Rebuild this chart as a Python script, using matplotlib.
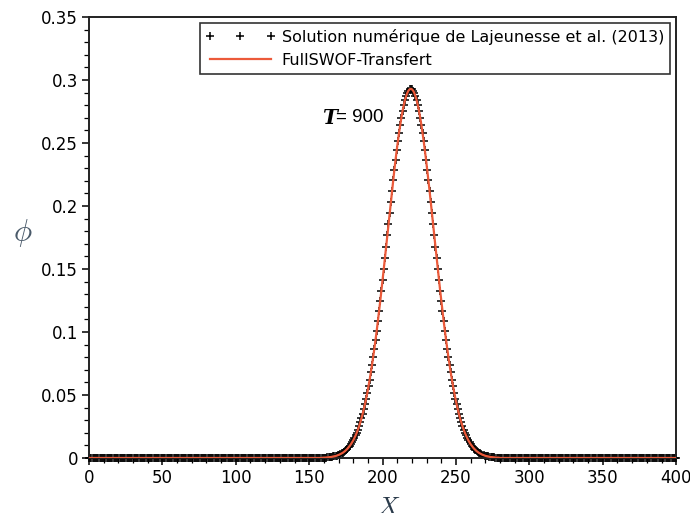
import numpy as np
import matplotlib
matplotlib.use("Agg")
import matplotlib.pyplot as plt
from matplotlib.ticker import MultipleLocator, FuncFormatter

# Domain: 501 grid points, dx = 0.8; phi is zero outside the pulse
x_start, x_end, n_points = 0, 400, 501
pulse_first_index = 199  # x = 159.2
pulse_phi = [
    0.0002, 0.0003, 0.0003, 0.0004, 0.0005, 0.0006, 0.0007, 0.0008, 0.0010, 0.0012,
    0.0014, 0.0016, 0.0019, 0.0023, 0.0026, 0.0031, 0.0036, 0.0041, 0.0048, 0.0055,
    0.0064, 0.0073, 0.0084, 0.0096, 0.0109, 0.0124, 0.0140, 0.0159, 0.0179, 0.0201,
    0.0226, 0.0253, 0.0282, 0.0314, 0.0349, 0.0387, 0.0428, 0.0471, 0.0518, 0.0569,
    0.0622, 0.0679, 0.0740, 0.0803, 0.0869, 0.0939, 0.1011, 0.1087, 0.1165, 0.1246,
    0.1329, 0.1415, 0.1501, 0.1589, 0.1678, 0.1767, 0.1856, 0.1945, 0.2033, 0.2120,
    0.2205, 0.2286, 0.2366, 0.2442, 0.2514, 0.2582, 0.2645, 0.2702, 0.2754, 0.2799,
    0.2839, 0.2871, 0.2897, 0.2915, 0.2926, 0.2930, 0.2926, 0.2915, 0.2897, 0.2871,
    0.2839, 0.2799, 0.2754, 0.2702, 0.2645, 0.2582, 0.2514, 0.2442, 0.2366, 0.2286,
    0.2205, 0.2120, 0.2033, 0.1945, 0.1856, 0.1767, 0.1678, 0.1589, 0.1501, 0.1415,
    0.1329, 0.1246, 0.1165, 0.1087, 0.1011, 0.0939, 0.0869, 0.0803, 0.0740, 0.0679,
    0.0622, 0.0569, 0.0518, 0.0471, 0.0428, 0.0387, 0.0349, 0.0314, 0.0282, 0.0253,
    0.0226, 0.0201, 0.0179, 0.0159, 0.0140, 0.0124, 0.0109, 0.0096, 0.0084, 0.0073,
    0.0064, 0.0055, 0.0048, 0.0041, 0.0036, 0.0031, 0.0026, 0.0023, 0.0019, 0.0016,
    0.0014, 0.0012, 0.0010, 0.0008, 0.0007, 0.0006, 0.0005, 0.0004, 0.0003, 0.0003,
    0.0002,
]
x_grid = np.linspace(x_start, x_end, n_points)
phi = np.zeros(n_points)
phi[pulse_first_index:pulse_first_index + len(pulse_phi)] = pulse_phi

label_ref = "Solution numérique de Lajeunesse et al. (2013)"
label_sim = "FullSWOF-Transfert"

plt.rcParams['mathtext.fontset'] = 'cm'
fig = plt.figure(figsize=(6.9, 5.13), dpi=100)
ax = fig.add_axes([0.129, 0.1072, 0.851, 0.8597])

ax.plot(x_grid, phi, linestyle='none', marker='+', color='black',
        markersize=6, markeredgewidth=1.1, label=label_ref, zorder=2, clip_on=False)
ax.plot(x_grid, phi, color='#ec5a3a', linewidth=1.6, label=label_sim, zorder=3)

ax.set_xlim(0, 400)
ax.set_ylim(0, 0.35)
ax.xaxis.set_major_locator(MultipleLocator(50))
ax.xaxis.set_minor_locator(MultipleLocator(10))
ax.yaxis.set_major_locator(MultipleLocator(0.05))
ax.yaxis.set_minor_locator(MultipleLocator(0.01))
ax.yaxis.set_major_formatter(FuncFormatter(lambda v, p: ('%g' % round(v, 2))))
ax.tick_params(which='major', direction='out', length=5, width=1.1, labelsize=12,
               top=False, right=False, colors='black', pad=3)
ax.tick_params(which='minor', direction='out', length=3.5, width=0.9,
               top=False, right=False)
for s in ax.spines.values():
    s.set_linewidth(1.4)
    s.set_color('#222222')

ax.set_xlabel(r'$X$', fontsize=18, color='#2a3a4a', va='top')
ax.xaxis.set_label_coords(0.51, -0.085)
ax.set_ylabel(r'$\phi$', fontsize=22, rotation=0, color='#4a5a6a', va='center')
ax.yaxis.set_label_coords(-0.112, 0.51)

ax.text(158.8, 0.270, 'T', fontsize=14.5, fontweight='bold', fontstyle='italic',
        family='DejaVu Serif', va='center', ha='left')
ax.text(168.3, 0.270, '= 900', fontsize=13.5, va='center', ha='left', family='Liberation Sans')

leg = ax.legend(loc='upper right', numpoints=3, fontsize=11.5, fancybox=False,
                frameon=True, edgecolor='black', borderpad=0.35, labelspacing=0.5,
                handlelength=4.4, handletextpad=0.4, borderaxespad=0.4)
leg.get_frame().set_linewidth(1.2)

fig.savefig('out.png', dpi=100)
